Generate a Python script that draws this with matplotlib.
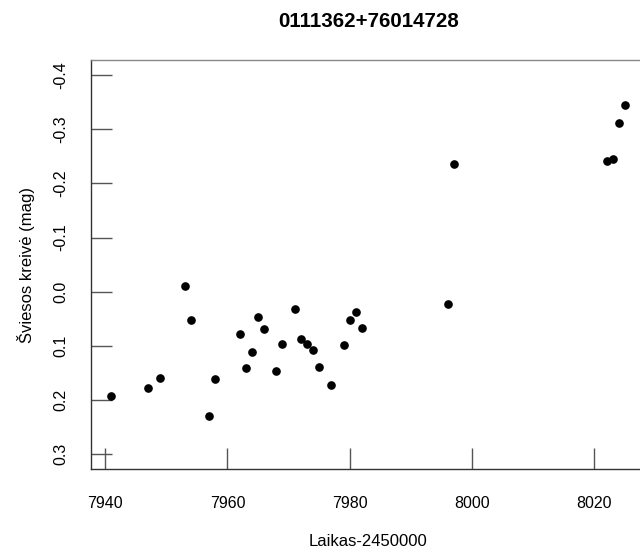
import matplotlib
matplotlib.use("Agg")
import matplotlib.pyplot as plt

# light curve points (time - 2450000, magnitude)
laikas = [7941, 7947, 7949, 7953, 7954, 7957, 7958, 7962, 7963, 7964,
          7965, 7966, 7968, 7969, 7971, 7972, 7973, 7974, 7975, 7977,
          7979, 7980, 7981, 7982, 7996, 7997, 8022, 8023, 8024, 8025]
mag = [0.193, 0.178, 0.159, -0.010, 0.052, 0.229, 0.162, 0.078, 0.140, 0.111,
       0.047, 0.068, 0.146, 0.097, 0.032, 0.088, 0.097, 0.108, 0.139, 0.172,
       0.098, 0.053, 0.037, 0.067, 0.023, -0.235, -0.242, -0.245, -0.312, -0.344]

xticks = [7940, 7960, 7980, 8000, 8020]
yticks = [-0.4, -0.3, -0.2, -0.1, 0.0, 0.1, 0.2, 0.3]
ytick_labels = ["-0.4", "-0.3", "-0.2", "-0.1", "0.0", "0.1", "0.2", "0.3"]

plt.rcParams['font.family'] = ['Liberation Sans', 'DejaVu Sans']

fig = plt.figure(figsize=(6.4, 5.54), dpi=100)
ax = fig.add_axes([0.1416, 0.1529, 0.8672, 0.7388])

ax.plot(laikas, mag, 'o', color='black', markersize=5.2, clip_on=False)

# R style 4% padding
xr = max(laikas) - min(laikas)
ax.set_xlim(min(laikas) - 0.04 * xr, max(laikas) + 0.04 * xr)
ax.set_ylim(0.3 + 0.028, -0.4 - 0.028)

ax.set_xticks(xticks)
ax.set_yticks(yticks)
ax.set_yticklabels(ytick_labels, rotation=90, va='center')

ax.tick_params(axis='both', direction='in', length=15, width=1.0,
               color='#555555', labelsize=11.5, labelcolor='black')
ax.tick_params(axis='x', pad=19)
ax.tick_params(axis='y', pad=16)

for s in ax.spines.values():
    s.set_color('#333333')
    s.set_linewidth(1.0)
ax.spines['top'].set_color('#888888')

ax.set_xlabel("Laikas-2450000", fontsize=12, labelpad=17)
ax.set_ylabel("Šviesos kreivė (mag)", fontsize=12, labelpad=13)
ax.set_title("0111362+76014728", fontsize=14.8, fontweight='bold', pad=24)

fig.savefig("out.png", dpi=100)
